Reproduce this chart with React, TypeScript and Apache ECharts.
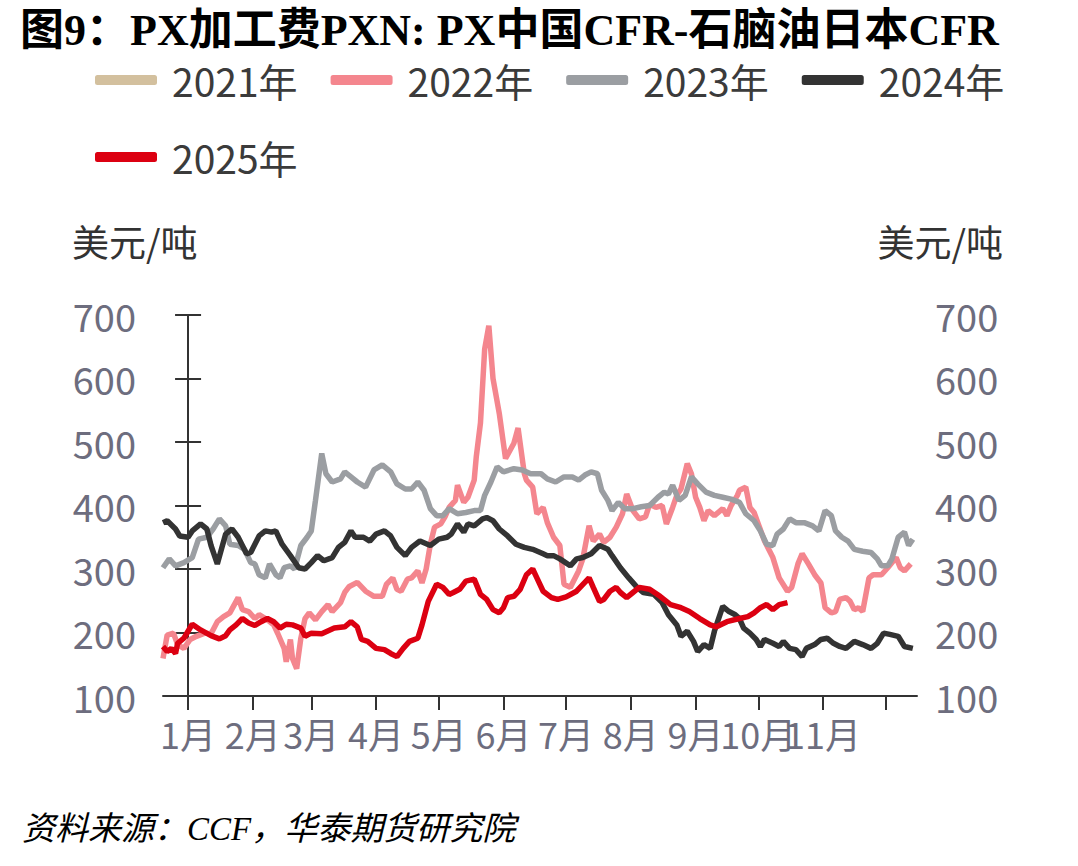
import React, { useEffect, useRef } from "react";
import * as echarts from "echarts";

// x values are day-of-year offsets (0 = 1月1日)
const MONTH_STARTS = [0, 31, 59, 90, 120, 151, 181, 212, 243, 273, 304, 334];
const MONTH_LABELS = ["1月", "2月", "3月", "4月", "5月", "6月", "7月", "8月", "9月", "10月", "11月"];
const Y_TICKS = [100, 200, 300, 400, 500, 600, 700];
const SERIES_NAMES = ["2021年", "2022年", "2023年", "2024年", "2025年"];
const SERIES_COLORS = ["#d3c09e", "#f4868e", "#9b9ea2", "#333333", "#dc0011"];

const S2021: [number, number][] = [];

const S2022: [number, number][] = [
  [-12, 159], [-10, 196], [-7, 199], [-5, 181], [-2, 175], [1, 189], [4, 194], [8, 199], [11, 198],
  [14, 217], [17, 225], [20, 231], [24, 255], [26, 236], [29, 233], [32, 222], [34, 228], [38, 220],
  [41, 212], [43, 198], [46, 175], [47, 154], [49, 189], [50, 159], [52, 143], [54, 191], [56, 222],
  [58, 231], [61, 220], [64, 233], [67, 244], [69, 233], [73, 247], [75, 263], [77, 272], [81, 279],
  [85, 265], [89, 257], [93, 257], [95, 276], [98, 286], [100, 268], [102, 265], [105, 284], [107, 286],
  [110, 297], [112, 278], [114, 300], [116, 339], [118, 366], [121, 371], [123, 382], [125, 397],
  [128, 408], [129, 432], [132, 405], [134, 413], [137, 440], [138, 477], [140, 530], [142, 646],
  [144, 683], [146, 600], [149, 545], [152, 474], [156, 498], [158, 522], [161, 450], [162, 440],
  [165, 429], [167, 387], [170, 397], [172, 373], [175, 350], [178, 337], [180, 276], [183, 271],
  [187, 297], [189, 316], [192, 368], [194, 344], [197, 355], [199, 342], [202, 350], [205, 366],
  [208, 387], [210, 418], [213, 392], [216, 379], [219, 382], [221, 402], [224, 397], [227, 400],
  [229, 371], [232, 397], [234, 416], [236, 426], [239, 466], [241, 450], [243, 413], [245, 397],
  [247, 376], [249, 392], [252, 384], [256, 395], [258, 384], [260, 400], [263, 416], [264, 424],
  [267, 429], [269, 397], [271, 389], [273, 371], [276, 344], [280, 318], [283, 286], [287, 265],
  [289, 271], [292, 308], [294, 324], [297, 308], [300, 291], [303, 278], [305, 239], [308, 231],
  [310, 233], [312, 252], [315, 255], [317, 249], [319, 236], [321, 239], [323, 233], [326, 286],
  [328, 291], [332, 291], [335, 302], [339, 318], [341, 302], [343, 297], [346, 308],
];

const S2023: [number, number][] = [
  [-12, 302], [-9, 316], [-6, 305], [-2, 310], [2, 318], [5, 347], [9, 350], [12, 363], [15, 379],
  [18, 368], [20, 339], [24, 337], [27, 331], [30, 310], [32, 308], [34, 291], [37, 286], [39, 308],
  [42, 291], [44, 286], [46, 302], [49, 305], [51, 300], [54, 337], [57, 350], [59, 360], [61, 408],
  [64, 482], [66, 450], [69, 437], [73, 442], [75, 453], [78, 445], [81, 437], [85, 429], [89, 456],
  [93, 464], [97, 453], [100, 434], [104, 426], [107, 426], [110, 437], [113, 424], [116, 395],
  [119, 384], [122, 384], [125, 395], [129, 387], [133, 389], [137, 392], [140, 392], [142, 416],
  [145, 437], [148, 461], [151, 453], [156, 458], [160, 456], [164, 450], [169, 450], [172, 442],
  [176, 437], [180, 445], [184, 445], [187, 440], [190, 448], [193, 453], [196, 450], [198, 424],
  [201, 408], [203, 392], [206, 405], [209, 395], [213, 395], [217, 398], [221, 400], [225, 413],
  [228, 421], [230, 418], [232, 432], [235, 408], [238, 416], [241, 445], [244, 434], [248, 421],
  [252, 416], [256, 413], [260, 410], [264, 405], [267, 387], [271, 376], [274, 360], [277, 339],
  [280, 337], [282, 355], [285, 363], [288, 379], [291, 373], [295, 373], [299, 368], [302, 360],
  [305, 392], [308, 384], [310, 360], [313, 350], [316, 344], [319, 331], [323, 328], [327, 326],
  [330, 316], [332, 305], [335, 305], [337, 316], [340, 350], [343, 358], [345, 337], [347, 347],
];

const S2024: [number, number][] = [
  [-12, 373], [-10, 376], [-6, 363], [-4, 352], [0, 350], [2, 360], [6, 371], [9, 363], [11, 337],
  [14, 308], [18, 355], [21, 363], [24, 350], [28, 324], [30, 326], [34, 352], [37, 360], [40, 358],
  [42, 360], [45, 339], [49, 321], [53, 302], [56, 300], [59, 310], [62, 321], [65, 313], [69, 318],
  [72, 334], [75, 342], [78, 360], [80, 350], [84, 350], [87, 344], [90, 355], [94, 360], [97, 352],
  [100, 334], [104, 321], [107, 334], [111, 344], [116, 337], [120, 347], [124, 350], [126, 355],
  [129, 371], [132, 358], [134, 371], [137, 368], [141, 379], [143, 381], [146, 376], [149, 363],
  [153, 352], [157, 339], [161, 334], [165, 331], [170, 324], [172, 321], [175, 321], [178, 316],
  [183, 305], [186, 316], [189, 318], [193, 324], [197, 337], [201, 331], [203, 321], [207, 302],
  [211, 286], [215, 271], [218, 263], [223, 260], [227, 247], [230, 228], [234, 212], [236, 194],
  [239, 202], [242, 186], [244, 170], [247, 181], [250, 175], [252, 202], [256, 241], [259, 233],
  [262, 228], [264, 222], [266, 207], [269, 199], [272, 189], [274, 178], [276, 189], [280, 183],
  [283, 178], [285, 186], [288, 175], [291, 173], [294, 162], [296, 175], [300, 181], [303, 189],
  [306, 191], [309, 183], [312, 178], [315, 175], [319, 186], [323, 181], [327, 175], [330, 183],
  [333, 199], [336, 197], [340, 194], [343, 178], [347, 175],
];

const S2025: [number, number][] = [
  [-12, 178], [-10, 170], [-8, 175], [-6, 167], [-5, 183], [-2, 191], [2, 213], [6, 204], [11, 195],
  [15, 190], [18, 195], [20, 204], [23, 212], [26, 222], [29, 215], [32, 211], [35, 217], [38, 222],
  [41, 217], [44, 207], [47, 213], [50, 212], [54, 207], [56, 194], [59, 199], [64, 198], [70, 207],
  [75, 209], [78, 217], [81, 209], [83, 189], [86, 186], [90, 175], [94, 173], [97, 167], [100, 162],
  [103, 175], [106, 186], [110, 191], [112, 212], [115, 249], [119, 276], [122, 271], [125, 260],
  [127, 263], [130, 268], [133, 281], [137, 284], [140, 260], [143, 252], [146, 236], [149, 231],
  [151, 239], [153, 255], [156, 257], [159, 268], [162, 291], [165, 300], [167, 286], [170, 265],
  [174, 255], [177, 252], [181, 256], [186, 265], [192, 286], [194, 271], [197, 249], [199, 252],
  [202, 265], [205, 271], [207, 263], [210, 255], [213, 263], [216, 271], [221, 268], [226, 257],
  [231, 244], [236, 239], [240, 233], [245, 222], [250, 212], [253, 209], [258, 217], [264, 222],
  [268, 225], [271, 231], [274, 239], [277, 244], [280, 236], [283, 244], [287, 247],
];

const SERIES_DATA = [S2021, S2022, S2023, S2024, S2025];

const CJK = '"Noto Sans CJK SC", "Noto Sans", sans-serif';
const SERIF_MIX = '"Liberation Serif", "Noto Sans CJK SC", serif';
const AXIS_DARK = "#333333";
const TICK_GREY = "#6d6d7e";

// Month labels split over two overlaid x axes (odd / even months) so that
// neighbouring labels that touch are still all drawn.
const ODD_MONTH_STARTS = MONTH_STARTS.slice(0, MONTH_LABELS.length).filter((_, i) => i % 2 === 0);
const EVEN_MONTH_STARTS = MONTH_STARTS.slice(0, MONTH_LABELS.length).filter((_, i) => i % 2 === 1);

export default function App() {
  const ref = useRef<HTMLDivElement>(null);

  useEffect(() => {
    document.body.style.margin = "0";
    if (!ref.current) return;
    const chart = echarts.init(ref.current, undefined, { renderer: "svg" });

    const legendText = {
      fontSize: 39,
      lineHeight: 40,
      color: "#3b3b3b",
      fontFamily: CJK,
      padding: [0, 0, 0, 10],
    };
    const legendBase = {
      left: 95,
      padding: 0,
      icon: "roundRect",
      itemWidth: 62,
      itemHeight: 10,
      itemGap: 33,
      textStyle: legendText,
    };
    const monthLabel = (v: number) => MONTH_LABELS[MONTH_STARTS.indexOf(v)] ?? "";
    const xLabelBase = {
      formatter: monthLabel,
      hideOverlap: false,
      showMinLabel: true,
      showMaxLabel: true,
      fontSize: 36,
      color: TICK_GREY,
      fontFamily: CJK,
      margin: 19,
    };
    const yAxisBase = {
      type: "value" as const,
      min: Y_TICKS[0],
      max: Y_TICKS[Y_TICKS.length - 1],
      interval: 100,
      axisLine: { show: true, lineStyle: { color: AXIS_DARK, width: 2 } },
      axisTick: { show: true, length: 13, lineStyle: { color: AXIS_DARK, width: 2 } },
      splitLine: { show: false },
    };

    chart.setOption({
      animation: false,
      backgroundColor: "#ffffff",
      title: {
        text: "图9：PX加工费PXN: PX中国CFR-石脑油日本CFR",
        left: 20,
        top: 8,
        padding: 0,
        textStyle: {
          fontSize: 44,
          lineHeight: 44,
          fontWeight: "bold",
          color: "#000000",
          fontFamily: SERIF_MIX,
        },
      },
      legend: [
        { ...legendBase, data: SERIES_NAMES.slice(0, 4), top: 60 },
        { ...legendBase, data: SERIES_NAMES.slice(4), top: 137 },
      ],
      grid: { left: 163, right: 161, top: 315, bottom: 170, containLabel: false },
      xAxis: [
        {
          type: "value",
          position: "bottom",
          min: -12,
          max: 349,
          axisLine: { show: true, onZero: false, lineStyle: { color: AXIS_DARK, width: 2 } },
          axisTick: {
            show: true,
            length: 14,
            customValues: MONTH_STARTS,
            lineStyle: { color: AXIS_DARK, width: 2 },
          },
          axisLabel: { ...xLabelBase, customValues: ODD_MONTH_STARTS },
          splitLine: { show: false },
        },
        {
          type: "value",
          position: "bottom",
          offset: 0,
          min: -12,
          max: 349,
          axisLine: { show: false, onZero: false },
          axisTick: { show: false },
          axisLabel: { ...xLabelBase, customValues: EVEN_MONTH_STARTS },
          splitLine: { show: false },
        },
      ],
      yAxis: [
        {
          ...yAxisBase,
          position: "left",
          axisLabel: { fontSize: 38, color: TICK_GREY, fontFamily: CJK, margin: 27 },
        },
        {
          ...yAxisBase,
          position: "right",
          axisLabel: { fontSize: 38, color: TICK_GREY, fontFamily: CJK, margin: 18 },
        },
      ],
      graphic: [
        {
          type: "text",
          left: 72,
          top: 222,
          style: { text: "美元/吨", fontSize: 37, fontFamily: CJK, fill: "#333333" },
        },
        {
          type: "text",
          right: 75,
          top: 222,
          style: { text: "美元/吨", fontSize: 37, fontFamily: CJK, fill: "#333333" },
        },
        {
          type: "text",
          left: 22,
          top: 812,
          style: {
            text: "资料来源：CCF，华泰期货研究院",
            fontSize: 33,
            fontStyle: "italic",
            fontFamily: SERIF_MIX,
            fill: "#000000",
          },
        },
      ],
      series: SERIES_NAMES.map((name, i) => ({
        name,
        type: "line",
        data: SERIES_DATA[i],
        xAxisIndex: 0,
        yAxisIndex: 0,
        showSymbol: false,
        symbol: "none",
        lineStyle: { width: 5.5, color: SERIES_COLORS[i] },
        itemStyle: { color: SERIES_COLORS[i] },
        z: 2 + i,
      })),
    });

    return () => chart.dispose();
  }, []);

  return <div ref={ref} style={{ width: 1078, height: 866 }} />;
}
